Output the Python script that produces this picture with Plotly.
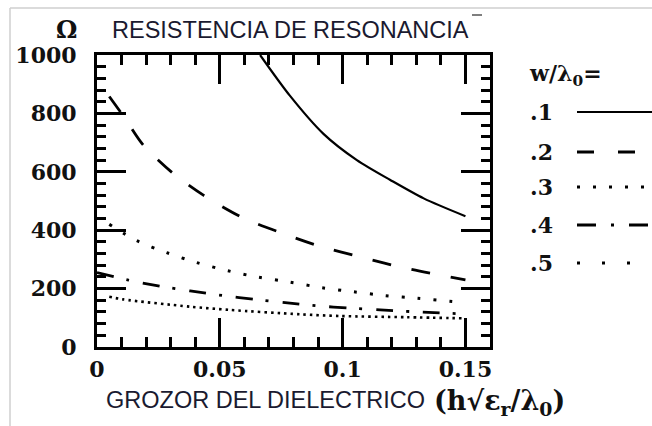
import plotly.graph_objects as go

# ---- data ----
x_w1 = [0.0664, 0.0786, 0.0922, 0.1058, 0.1194, 0.1330, 0.1500]
r_w1 = [1000, 860, 730, 640, 572, 509, 448]

x_w2 = [0.0050, 0.0114, 0.0188, 0.0305, 0.0433, 0.0593, 0.0753, 0.0915, 0.1075, 0.1245, 0.1500]
r_w2 = [858, 783, 692, 598, 520, 443, 390, 343, 308, 272, 230]

x_w3 = [0.0050, 0.0162, 0.0284, 0.0406, 0.0533, 0.0657, 0.0786, 0.0916, 0.1045, 0.1174, 0.1303, 0.1500]
r_w3 = [420, 364, 323, 289, 261, 239, 222, 203, 189, 176, 167, 152]

x_w4 = [0.0000, 0.0128, 0.0257, 0.0379, 0.0515, 0.0644, 0.0766, 0.0895, 0.1031, 0.1153, 0.1286, 0.1500]
r_w4 = [255, 229, 208, 192, 176, 163, 152, 141, 133, 127, 121, 113]

x_w5 = [0.0050, 0.0106, 0.0380, 0.0540, 0.0827, 0.0990, 0.1260, 0.1500]
r_w5 = [172, 163, 138, 127, 112, 106, 102, 98]

legend_labels = [".1", ".2", ".3", ".4", ".5"]
x_ticks = [0, 0.05, 0.1, 0.15]
x_ticklabels = ["0", "0.05", "0.1", "0.15"]
y_ticks = [0, 200, 400, 600, 800, 1000]
y_ticklabels = ["0", "200", "400", "600", "800", "1000"]

# ---- layout geometry (pixels) ----
W, H = 652, 426
L, R, T, B = 97, 490, 55, 347


def px(x):
    return (x - L) / (R - L)


def py(y):
    return (B - y) / (B - T)


SERIF = "DejaVu Serif"
SANS = "Liberation Sans"
INK = "#111111"

plot_styles = [
    dict(width=2.2, dash="solid"),
    dict(width=2.8, dash="19px,21px"),
    dict(width=3.0, dash="3px,13px"),
    dict(width=2.8, dash="17px,13px,3px,14px"),
    dict(width=2.6, dash="2.5px,4px"),
]
legend_styles = [
    dict(width=2.2, dash="solid"),
    dict(width=2.8, dash="17px,24px"),
    dict(width=3.0, dash="3px,13px"),
    dict(width=2.8, dash="19px,15px,3px,15px"),
    dict(width=3.0, dash="3px,22px"),
]

fig = go.Figure()
series = [(x_w1, r_w1), (x_w2, r_w2), (x_w3, r_w3), (x_w4, r_w4), (x_w5, r_w5)]
for (xs, ys), st, name in zip(series, plot_styles, legend_labels):
    fig.add_trace(go.Scatter(
        x=xs, y=ys, mode="lines", name=name, showlegend=False,
        line=dict(color="black", width=st["width"], dash=st["dash"], shape="spline", smoothing=0.8),
        cliponaxis=True,
    ))

axis_common = dict(
    showline=True, linecolor="black", linewidth=3, mirror="allticks",
    ticks="inside", tickcolor="black", tickwidth=3, ticklen=29,
    showgrid=False, zeroline=False,
    tickfont=dict(family=SERIF, size=22, color=INK, weight="bold"),
)

fig.update_xaxes(
    range=[0, 0.16], tickvals=x_ticks, ticktext=x_ticklabels,
    ticklabelstandoff=1,
    minor=dict(dtick=0.01, tick0=0, ticks="inside", ticklen=10, tickwidth=2.5, tickcolor="black", showgrid=False),
    **axis_common,
)
fig.update_yaxes(
    range=[0, 1000], tickvals=y_ticks, ticktext=y_ticklabels,
    ticklabelstandoff=13,
    minor=dict(dtick=40, tick0=0, ticks="inside", ticklen=9, tickwidth=2.5, tickcolor="black", showgrid=False),
    **axis_common,
)

annotations = [
    dict(text="RESISTENCIA DE RESONANCIA", x=px(290), y=py(30), xref="paper", yref="paper",
         showarrow=False, xanchor="center", yanchor="middle",
         font=dict(family=SANS, size=23.5, color="#1a1a30")),
    dict(text="<b>Ω</b>", x=px(66), y=py(30), xref="paper", yref="paper",
         showarrow=False, xanchor="center", yanchor="middle",
         font=dict(family=SERIF, size=24, color=INK)),
    dict(text="GROZOR DEL DIELECTRICO", x=px(104), y=py(400), xref="paper", yref="paper",
         showarrow=False, xanchor="left", yanchor="middle",
         font=dict(family=SANS, size=23.5, color="#1a1a30")),
    dict(text="<b>(h√ε<sub>r</sub>/λ<sub>0</sub>)</b>", x=px(432), y=py(402), xref="paper", yref="paper",
         showarrow=False, xanchor="left", yanchor="middle",
         font=dict(family=SERIF, size=27, color=INK)),
    dict(text="<b>w/λ<sub>0</sub>=</b>", x=px(527), y=py(75), xref="paper", yref="paper",
         showarrow=False, xanchor="left", yanchor="middle",
         font=dict(family=SERIF, size=22, color=INK)),
]

shapes = [
    # light frame of the picture
    dict(type="line", xref="paper", yref="paper", x0=px(10), x1=px(652), y0=py(8), y1=py(8),
         line=dict(color="#cfcfcf", width=1.5)),
    dict(type="line", xref="paper", yref="paper", x0=px(10), x1=px(10), y0=py(8), y1=py(426),
         line=dict(color="#cfcfcf", width=1.5)),
    # small stray overline mark after the title
    dict(type="line", xref="paper", yref="paper", x0=px(472), x1=px(482), y0=py(15), y1=py(15),
         line=dict(color="#555555", width=1.5)),
]

legend_y = [112, 152, 187, 225, 263]
for lab, yy, st in zip(legend_labels, legend_y, legend_styles):
    annotations.append(dict(text="<b>" + lab + "</b>", x=px(528), y=py(yy), xref="paper", yref="paper",
                            showarrow=False, xanchor="left", yanchor="middle",
                            font=dict(family=SERIF, size=22, color=INK)))
    shapes.append(dict(type="line", xref="paper", yref="paper", x0=px(577), x1=px(652),
                       y0=py(yy), y1=py(yy),
                       line=dict(color="black", width=st["width"], dash=st["dash"])))

fig.update_layout(
    width=W, height=H,
    margin=dict(l=L, r=W - R, t=T, b=H - B, pad=0),
    paper_bgcolor="white", plot_bgcolor="white",
    annotations=annotations, shapes=shapes,
    showlegend=False,
)

fig.write_html("out.html")
